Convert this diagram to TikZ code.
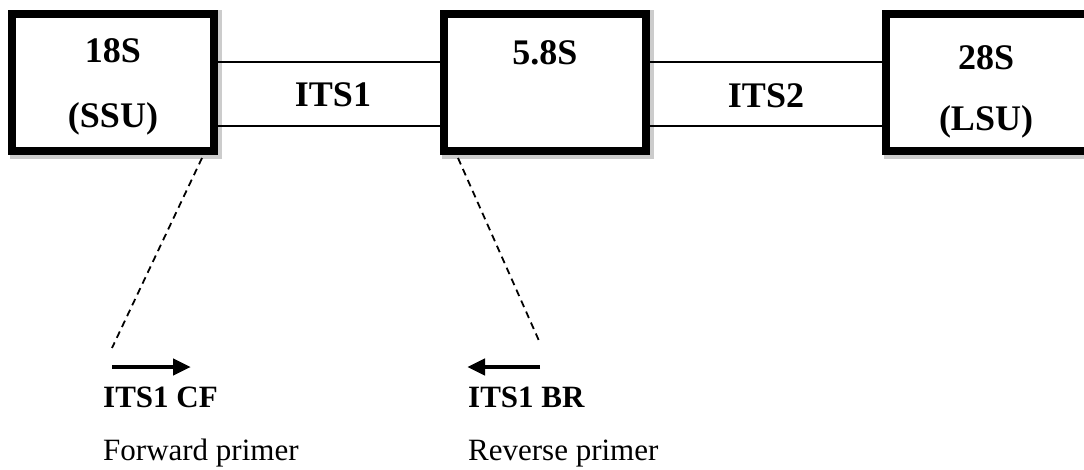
\documentclass[tikz,border=0pt]{standalone}
\usepackage{fontspec}
\setmainfont{Liberation Serif}
\usetikzlibrary{arrows.meta}
\tikzset{
  rbox/.style={draw=black, line width=8pt, fill=white, minimum width=202pt, minimum height=137pt, inner sep=0pt},
  boxshadow/.style={fill=gray!40},
  biglabel/.style={font=\fontsize{36}{40}\selectfont\bfseries, inner sep=0pt, anchor=base},
  primername/.style={font=\fontsize{31}{34}\selectfont\bfseries, inner sep=0pt, anchor=base west},
  primerdesc/.style={font=\fontsize{31}{34}\selectfont, inner sep=0pt, anchor=base west},
  itsline/.style={line width=2pt},
  guide/.style={line width=1.8pt, dash pattern=on 7pt off 5pt},
  primerarrow/.style={line width=4.5pt, -{Triangle[length=18pt,width=16pt]}}
}
\begin{document}
\begin{tikzpicture}[x=1pt,y=-1pt]
\useasboundingbox (0,0) rectangle (1084,470);
\clip (0,0) rectangle (1084,470);
% shadows
\fill[boxshadow] (10,10) rectangle (222,159);
\fill[boxshadow] (442,10) rectangle (654,159);
\fill[boxshadow] (884,10) rectangle (1096,159);
% boxes
\node[rbox] (b1) at (113,82.5) {};
\node[rbox] (b2) at (545,82.5) {};
\node[rbox] (b3) at (987,82.5) {};
% box labels
\node[biglabel] (l18s) at (113,63) {18S};
\node[biglabel] (lssu) at (113,128) {(SSU)};
\node[biglabel] (l58s) at (545,65) {5.8S};
\node[biglabel] (l28s) at (986,70) {28S};
\node[biglabel] (llsu) at (986,131) {(LSU)};
% ITS lines
\draw[itsline] ([yshift=20.5pt]b1.east) -- ([yshift=20.5pt]b2.west);
\draw[itsline] ([yshift=-43.5pt]b1.east) -- ([yshift=-43.5pt]b2.west);
\draw[itsline] ([yshift=20.5pt]b2.east) -- ([yshift=20.5pt]b3.west);
\draw[itsline] ([yshift=-43.5pt]b2.east) -- ([yshift=-43.5pt]b3.west);
\node[biglabel] (its1) at (333,107) {ITS1};
\node[biglabel] (its2) at (766,108) {ITS2};
% primer guides
\coordinate (cfend) at (112,348);
\coordinate (brend) at (540,343);
\draw[guide] ([xshift=-16pt,yshift=-3pt]b1.south east) -- (cfend);
\draw[guide] ([xshift=18pt,yshift=-3pt]b2.south west) -- (brend);
% primer arrows
\coordinate (cfa) at (112,367);
\coordinate (cfb) at (191,367);
\coordinate (bra) at (540,367);
\coordinate (brb) at (467,367);
\draw[primerarrow] (cfa) -- (cfb);
\draw[primerarrow] (bra) -- (brb);
% primer labels
\node[primername] (cfname) at (103,407) {ITS1 CF};
\node[primerdesc] (cfdesc) at (103,460) {Forward primer};
\node[primername] (brname) at (468,407) {ITS1 BR};
\node[primerdesc] (brdesc) at (468,460) {Reverse primer};
\end{tikzpicture}
\end{document}
